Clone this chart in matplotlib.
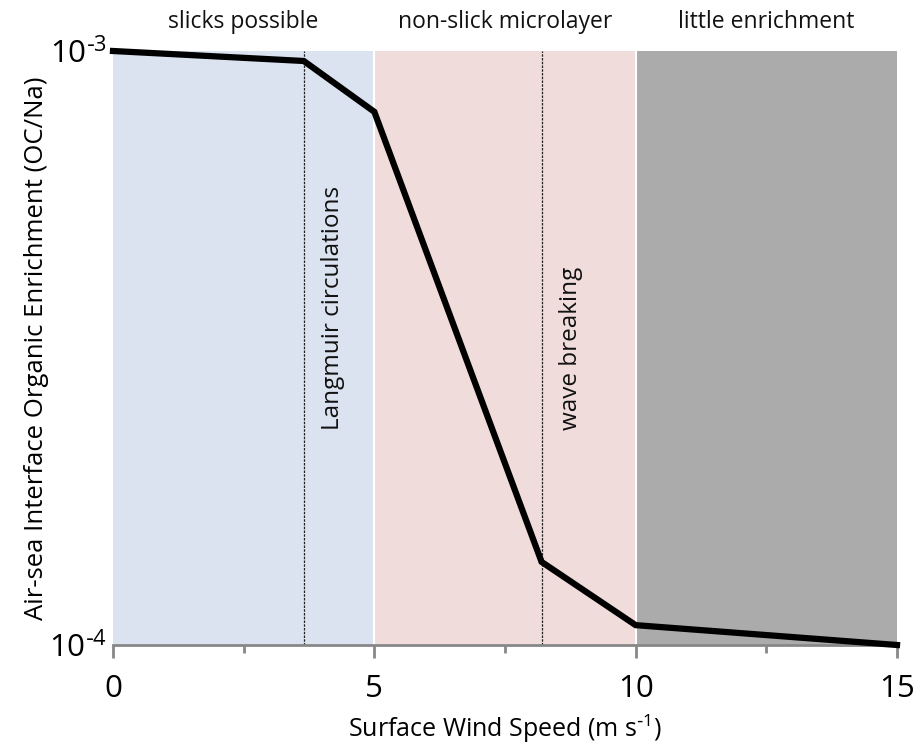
import matplotlib.pyplot as plt
import numpy as np

plt.rcParams['font.family'] = ['Open Sans', 'DejaVu Sans']

# wind speed (m/s) and enrichment (OC/Na)
wind = [0, 3.65, 5.0, 8.2, 10.0, 15.0]
enrich = [1.0e-3, 0.962e-3, 0.79e-3, 1.38e-4, 1.08e-4, 1.0e-4]

regions = [(0, 5), (5, 10), (10, 15)]
region_colors = ['#dce3f0', '#f1dcdc', '#ababab']
region_names = ['slicks possible', 'non-slick microlayer', 'little enrichment']

process_x = [3.65, 8.2]
process_names = ['Langmuir circulations', 'wave breaking']

fig = plt.figure(figsize=(9.17, 7.48), dpi=100)
ax = fig.add_axes([113 / 917, 103 / 748, 784 / 917, 594 / 748])

for (x0, x1), c, name in zip(regions, region_colors, region_names):
    ax.axvspan(x0, x1, color=c, lw=0, zorder=0)
    ax.text((x0 + x1) / 2, 1.028, name, transform=ax.get_xaxis_transform(),
            ha='center', va='bottom', fontsize=16.5, color='#111111')

# thin white gaps between regions
for xb in [5, 10]:
    ax.axvline(xb, color='white', lw=1.5, zorder=1)

for xp, name in zip(process_x, process_names):
    ax.axvline(xp, color='#222222', lw=0.9, ls=(0, (2, 1)), zorder=2)
    ax.text(xp + 0.56, 2.30e-4, name, rotation=90, ha='center', va='bottom',
            fontsize=17.5, color='#111111')

ax.plot(wind, enrich, color='black', lw=4.5, solid_joinstyle='miter', zorder=3, clip_on=False)

ax.set_yscale('log')
ax.set_xlim(0, 15)
ax.set_ylim(1e-4, 1e-3)
ax.set_yticks([1e-4, 1e-3])
ax.set_yticklabels([r'$\mathregular{10^{\text{-}4}}$', r'$\mathregular{10^{\text{-}3}}$'])
ax.yaxis.set_minor_locator(plt.NullLocator())
ax.tick_params(axis='y', length=0, labelsize=22.5, pad=4)

ax.set_xticks([0, 5, 10, 15])
ax.set_xticks([2.5, 7.5, 12.5], minor=True)
ax.tick_params(axis='x', which='major', length=9, width=2, color='#888888',
               labelsize=22.5, pad=12, direction='out')
ax.tick_params(axis='x', which='minor', length=6, width=2, color='#888888', direction='out')

for s in ['top', 'right', 'left']:
    ax.spines[s].set_visible(False)
ax.spines['bottom'].set_color('#888888')
ax.spines['bottom'].set_linewidth(2)

ax.set_xlabel(r'Surface Wind Speed (m s$\mathregular{^{\text{-}1}}$)', fontsize=18, labelpad=6)
ax.set_ylabel('Air-sea Interface Organic Enrichment (OC/Na)', fontsize=18.5, labelpad=0)

fig.savefig('out.png', dpi=100)
